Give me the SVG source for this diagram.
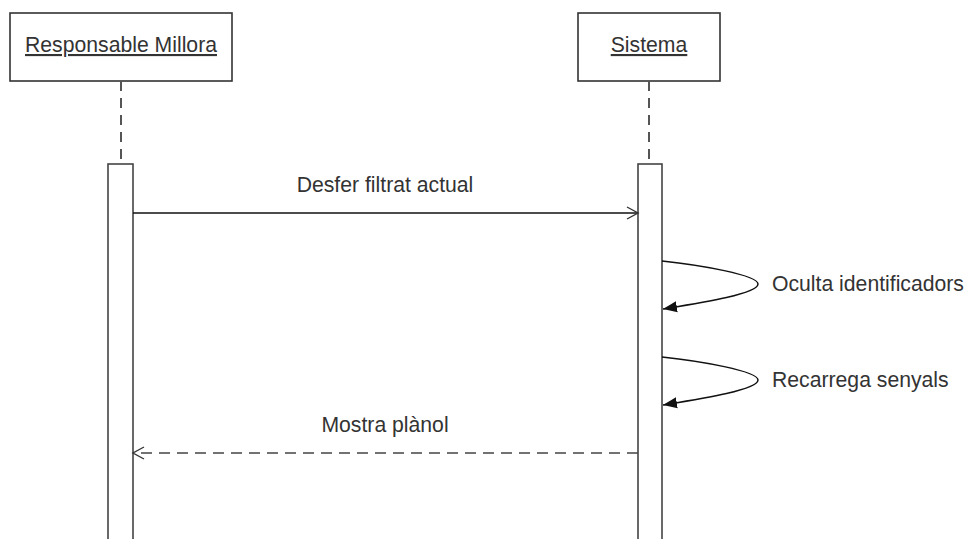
<svg xmlns="http://www.w3.org/2000/svg" width="965" height="539" viewBox="0 0 965 539">
<style>
.box{fill:#fff;stroke:#333;stroke-width:1.6}
.life{stroke:#555;stroke-width:2;stroke-dasharray:10,7;fill:none}
.act{fill:#fff;stroke:#444;stroke-width:1.6}
.msg{stroke:#111;stroke-width:1.5;fill:none}
.dash{stroke:#444;stroke-width:1.5;fill:none;stroke-dasharray:11,7}
.lbl{font-family:"Liberation Sans",Arial,sans-serif;font-size:21.2px;fill:#333}
.u{text-decoration:underline}
</style>
<defs>
<marker id="open" markerWidth="14" markerHeight="14" refX="12" refY="7" orient="auto" markerUnits="userSpaceOnUse">
<path d="M1,1 L12,7 L1,13" fill="none" stroke="#333" stroke-width="1.4"/>
</marker>
<marker id="filled" markerWidth="16" markerHeight="14" refX="14" refY="7" orient="auto" markerUnits="userSpaceOnUse">
<path d="M0,1.5 L14,7 L0,12.5 Z" fill="#111"/>
</marker>
</defs>
<g id="actor-responsable">
<rect class="box" x="10" y="13" width="222" height="68"/>
<text class="lbl u" x="121" y="52" text-anchor="middle">Responsable Millora</text>
<line class="life" x1="121" y1="81" x2="121" y2="164"/>
<rect class="act" x="108" y="164" width="25" height="380"/>
</g>
<g id="actor-sistema">
<rect class="box" x="578" y="13" width="142" height="68"/>
<text class="lbl u" x="649" y="52" text-anchor="middle">Sistema</text>
<line class="life" x1="649" y1="81" x2="649" y2="164"/>
<rect class="act" x="638" y="164" width="24" height="380"/>
</g>
<g id="connectors">
<g id="m1">
<line class="msg" x1="133" y1="213" x2="638" y2="213" marker-end="url(#open)"/>
<text class="lbl" x="385" y="192" text-anchor="middle">Desfer filtrat actual</text>
</g>
<g id="m2">
<path class="msg" d="M662,261 C700,265 758,275 758,284 C758,294 700,303 663,309" marker-end="url(#filled)"/>
<text class="lbl" x="772" y="291">Oculta identificadors</text>
</g>
<g id="m3">
<path class="msg" d="M662,357 C700,361 758,371 758,380 C758,390 700,399 663,405" marker-end="url(#filled)"/>
<text class="lbl" x="772" y="387">Recarrega senyals</text>
</g>
<g id="m4">
<line class="dash" x1="638" y1="453" x2="133" y2="453" marker-end="url(#open)"/>
<text class="lbl" x="385" y="432" text-anchor="middle">Mostra plànol</text>
</g>
</g>
</svg>
